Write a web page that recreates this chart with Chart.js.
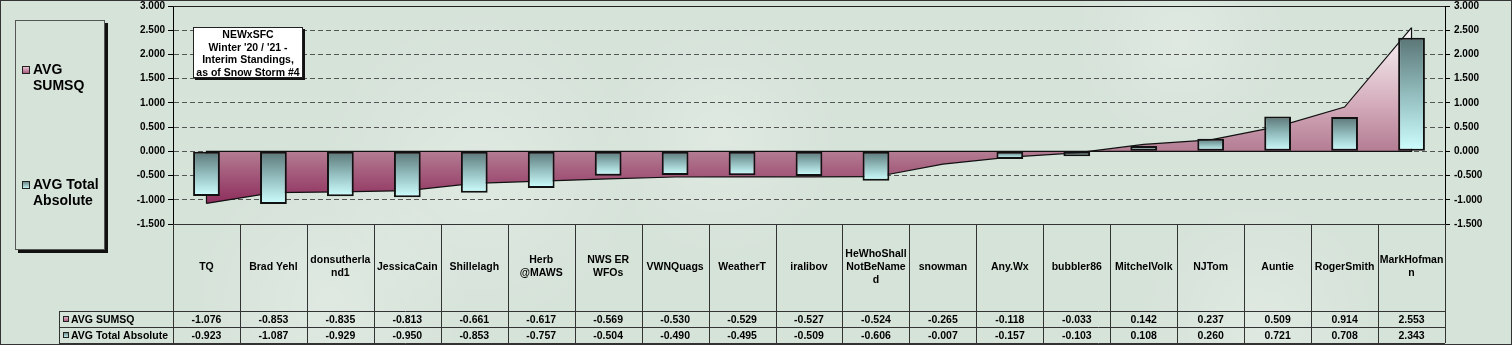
<!DOCTYPE html>
<html>
<head>
<meta charset="utf-8">
<script src="https://cdn.jsdelivr.net/npm/chart.js@4.4.1/dist/chart.umd.min.js"></script>
<style>
html, body { margin: 0; padding: 0; background: #d6e3d9; }
canvas { display: block; }
</style>
</head>
<body>
<canvas id="chart" width="1512" height="345"></canvas>
<script>
// chart data
const categories = [["TQ"], ["Brad Yehl"], ["donsutherla", "nd1"], ["JessicaCain"], ["Shillelagh"],
  ["Herb", "@MAWS"], ["NWS ER", "WFOs"], ["VWNQuags"], ["WeatherT"], ["iralibov"],
  ["HeWhoShall", "NotBeName", "d"], ["snowman"], ["Any.Wx"], ["bubbler86"], ["MitchelVolk"],
  ["NJTom"], ["Auntie"], ["RogerSmith"], ["MarkHofman", "n"]];
const avgSumsq = [-1.076, -0.853, -0.835, -0.813, -0.661, -0.617, -0.569, -0.530, -0.529, -0.527,
  -0.524, -0.265, -0.118, -0.033, 0.142, 0.237, 0.509, 0.914, 2.553];
const avgTotalAbs = [-0.923, -1.087, -0.929, -0.950, -0.853, -0.757, -0.504, -0.490, -0.495, -0.509,
  -0.606, -0.007, -0.157, -0.103, 0.108, 0.260, 0.721, 0.708, 2.343];
const seriesNames = ["AVG SUMSQ", "AVG Total Absolute"];
const legendLines = [["AVG", "SUMSQ"], ["AVG Total", "Absolute"]];
const titleLines = ["NEWxSFC", "Winter '20 / '21 -", "Interim Standings,", "as of Snow Storm #4"];
const yMin = -1.5, yMax = 3, yStep = 0.5;

const FONT = "'Liberation Sans', Arial, sans-serif";
const BG = "#d6e3d9";

function areaFill(c) {
  const chart = c.chart;
  if (!chart.chartArea) return "#b07890";
  const y = chart.scales.y;
  const g = chart.ctx.createLinearGradient(0, y.getPixelForValue(Math.max(...avgSumsq)), 0, y.getPixelForValue(Math.min(...avgSumsq)));
  g.addColorStop(0, "#fbf8f9");
  g.addColorStop(0.45, "#d2a9b8");
  g.addColorStop(0.7, "#b47d93");
  g.addColorStop(1, "#8e2d5c");
  return g;
}

function barFill(c) {
  const chart = c.chart;
  if (!chart.chartArea || c.type !== "data") return "#9fd0d0";
  const y = chart.scales.y, v = c.raw;
  const top = y.getPixelForValue(Math.max(v, 0));
  const bot = y.getPixelForValue(Math.min(v, 0));
  const g = chart.ctx.createLinearGradient(0, top, 0, bot + 0.01);
  g.addColorStop(0, "#5b7677");
  g.addColorStop(0.5, "#93bdbe");
  g.addColorStop(1, "#cfffff");
  return g;
}

function keyBox(ctx, x, y, s, top, bottom) {
  const g = ctx.createLinearGradient(0, y, 0, y + s);
  g.addColorStop(0, top);
  g.addColorStop(1, bottom);
  ctx.fillStyle = g;
  ctx.fillRect(x, y, s, s);
  ctx.strokeStyle = "#222";
  ctx.lineWidth = 1;
  ctx.strokeRect(x + 0.5, y + 0.5, s - 1, s - 1);
}

// faint cloudy patches of the picture fill
const clouds = [[480, 170, 160], [720, 140, 120], [1180, 40, 110], [330, 300, 140], [1260, 320, 120]];

const background = {
  id: "background",
  beforeDraw(chart) {
    const ctx = chart.ctx;
    ctx.save();
    ctx.fillStyle = BG;
    ctx.fillRect(0, 0, chart.width, chart.height);
    clouds.forEach(([cx, cy, r]) => {
      const g = ctx.createRadialGradient(cx, cy, 0, cx, cy, r);
      g.addColorStop(0, "rgba(255,255,255,0.22)");
      g.addColorStop(1, "rgba(255,255,255,0)");
      ctx.fillStyle = g;
      ctx.fillRect(cx - r, cy - r, 2 * r, 2 * r);
    });
    ctx.restore();
  }
};

// outline of area ends and baseline, as Excel draws it
const areaEdges = {
  id: "areaEdges",
  afterDatasetDraw(chart, args) {
    if (args.index !== 0) return;
    const pts = args.meta.data;
    const y0 = chart.scales.y.getPixelForValue(0);
    const ctx = chart.ctx;
    const first = pts[0], last = pts[pts.length - 1];
    ctx.save();
    ctx.strokeStyle = "#111";
    ctx.lineWidth = 1.2;
    ctx.beginPath();
    ctx.moveTo(first.x, first.y);
    ctx.lineTo(first.x, y0);
    ctx.lineTo(last.x, y0);
    ctx.lineTo(last.x, last.y);
    ctx.stroke();
    ctx.restore();
  }
};

const tableAndBoxes = {
  id: "tableAndBoxes",
  afterDraw(chart) {
    const ctx = chart.ctx;
    const a = chart.chartArea;
    const x = chart.scales.x;
    const step = x.getPixelForValue(1) - x.getPixelForValue(0);
    const n = categories.length;
    const row1 = 311, row2 = 327, tableBottom = 343, headLeft = 59;

    ctx.save();
    // solid top of plot area
    ctx.strokeStyle = "#222";
    ctx.lineWidth = 1;
    ctx.beginPath();
    ctx.moveTo(a.left, Math.round(a.top) + 0.5);
    ctx.lineTo(a.right, Math.round(a.top) + 0.5);
    ctx.stroke();

    // table grid
    ctx.strokeStyle = "#333";
    ctx.beginPath();
    ctx.moveTo(a.left, Math.round(a.bottom) + 0.5);
    ctx.lineTo(a.right, Math.round(a.bottom) + 0.5);
    [row1, row2, tableBottom].forEach(r => {
      ctx.moveTo(headLeft, r + 0.5);
      ctx.lineTo(a.right, r + 0.5);
    });
    ctx.moveTo(headLeft + 0.5, row1);
    ctx.lineTo(headLeft + 0.5, tableBottom);
    for (let i = 0; i <= n; i++) {
      const bx = Math.round(x.getPixelForValue(0) - step / 2 + i * step) + 0.5;
      ctx.moveTo(bx, a.bottom);
      ctx.lineTo(bx, tableBottom);
    }
    ctx.stroke();

    // category labels and values
    ctx.fillStyle = "#000";
    ctx.textAlign = "center";
    ctx.textBaseline = "middle";
    ctx.font = "bold 10.5px " + FONT;
    categories.forEach((lines, i) => {
      const cx = x.getPixelForValue(i);
      const y0 = 267 - (lines.length - 1) * 13 / 2;
      lines.forEach((t, k) => ctx.fillText(t, cx, y0 + k * 13));
      ctx.fillText(avgSumsq[i].toFixed(3), cx, (row1 + row2) / 2 + 1);
      ctx.fillText(avgTotalAbs[i].toFixed(3), cx, (row2 + tableBottom) / 2 + 1);
    });

    // row headers
    ctx.textAlign = "left";
    keyBox(ctx, 63, 316, 6, "#e8c8d4", "#a04870");
    keyBox(ctx, 63, 332, 6, "#5f7a7a", "#d0ffff");
    ctx.fillStyle = "#000";
    ctx.fillText(seriesNames[0], 71, (row1 + row2) / 2 + 1);
    ctx.fillText(seriesNames[1], 71, (row2 + tableBottom) / 2 + 1);

    // legend box
    ctx.fillStyle = "#111";
    ctx.fillRect(18, 23, 90, 230);
    ctx.fillStyle = BG;
    ctx.fillRect(15, 20, 90, 230);
    ctx.strokeStyle = "#555";
    ctx.strokeRect(15.5, 20.5, 89, 229);
    keyBox(ctx, 22, 66, 8, "#f0d8e0", "#a04870");
    keyBox(ctx, 22, 181, 8, "#5f7a7a", "#d0ffff");
    ctx.fillStyle = "#000";
    ctx.font = "bold 14px " + FONT;
    ctx.fillText(legendLines[0][0], 33, 70);
    ctx.fillText(legendLines[0][1], 33, 86);
    ctx.fillText(legendLines[1][0], 33, 185);
    ctx.fillText(legendLines[1][1], 33, 201);

    // title box
    ctx.fillStyle = "#111";
    ctx.fillRect(195, 29, 110, 51);
    ctx.fillStyle = "#fff";
    ctx.fillRect(193, 27, 110, 51);
    ctx.strokeStyle = "#222";
    ctx.strokeRect(193.5, 27.5, 109, 50);
    ctx.fillStyle = "#000";
    ctx.textAlign = "center";
    ctx.font = "bold 10.5px " + FONT;
    titleLines.forEach((t, k) => ctx.fillText(t, 248, 35 + k * 12.7));

    // frame
    ctx.strokeStyle = "#333";
    ctx.strokeRect(0.5, 0.5, chart.width - 1, chart.height - 1);
    ctx.restore();
  }
};

const tickFont = { family: FONT, size: 10, weight: "bold" };

new Chart(document.getElementById("chart"), {
  type: "bar",
  data: {
    labels: categories,
    datasets: [
      {
        type: "line",
        label: seriesNames[0],
        data: avgSumsq,
        fill: "origin",
        backgroundColor: areaFill,
        borderColor: "#111",
        borderWidth: 1.2,
        pointRadius: 0,
        tension: 0,
        order: 2
      },
      {
        type: "bar",
        label: seriesNames[1],
        data: avgTotalAbs,
        backgroundColor: barFill,
        borderColor: "#111",
        borderWidth: 2,
        borderSkipped: false,
        categoryPercentage: 1,
        barPercentage: 0.4,
        order: 1
      }
    ]
  },
  options: {
    responsive: false,
    devicePixelRatio: 1,
    animation: false,
    layout: { padding: { left: 0, right: 0, top: 0, bottom: 121 } },
    plugins: { legend: { display: false }, tooltip: { enabled: false } },
    scales: {
      x: { display: false, offset: true },
      y: {
        position: "left",
        min: yMin, max: yMax,
        ticks: { stepSize: yStep, callback: v => v.toFixed(3), font: tickFont, color: "#000", padding: 3 },
        grid: {
          color: c => (c.tick && (c.tick.value === yMin || c.tick.value === yMax)) ? "rgba(0,0,0,0)" : "#555",
          tickColor: "#000", tickLength: 5, lineWidth: 1
        },
        border: { color: "#000", width: 1, dash: [5, 3] },
        afterFit: s => { s.width = 173; s.paddingTop = 6; }
      },
      y2: {
        position: "right",
        min: yMin, max: yMax,
        ticks: { stepSize: yStep, callback: v => v.toFixed(3), font: tickFont, color: "#000", padding: 4 },
        grid: { drawOnChartArea: false, tickColor: "#000", tickLength: 5 },
        border: { color: "#000", width: 1 },
        afterFit: s => { s.width = 67; s.paddingTop = 6; }
      }
    }
  },
  plugins: [background, areaEdges, tableAndBoxes]
});
</script>
</body>
</html>
